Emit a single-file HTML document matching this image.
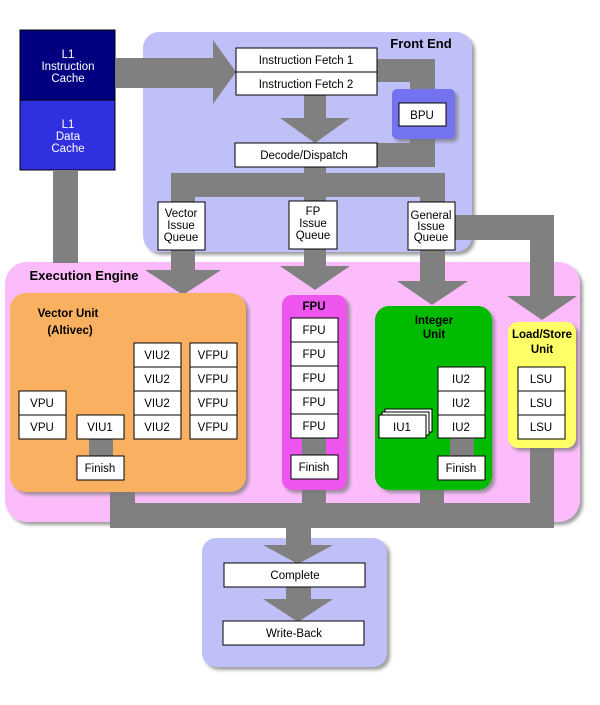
<!DOCTYPE html>
<html><head><meta charset="utf-8"><style>
body{margin:0;background:#fff}
svg text{font-family:"Liberation Sans",Arial,sans-serif;font-size:11.5px;text-anchor:middle;fill:#000}
svg text.w{fill:#fff}
.b{font-weight:bold}
</style></head><body>
<svg width="600" height="700" viewBox="0 0 600 700" xmlns="http://www.w3.org/2000/svg">
<defs><filter id="sh" x="-5%" y="-5%" width="115%" height="115%"><feDropShadow dx="3" dy="3" stdDeviation="1.5" flood-color="#777" flood-opacity="0.7"/></filter></defs>
<rect x="143" y="32" width="329" height="220" rx="16" fill="#c0c0f8" filter="url(#sh)"/>
<text x="421" y="48" class="b" style="font-size:13px">Front End</text>
<rect x="5" y="262" width="575" height="260" rx="22" fill="#fcbcfc" filter="url(#sh)"/>
<text x="84" y="280" class="b" style="font-size:13px">Execution Engine</text>
<rect x="202" y="538" width="185" height="129" rx="14" fill="#c0c0f8" filter="url(#sh)"/>
<rect x="20" y="30" width="95" height="70" fill="#000080" stroke="#000"/>
<rect x="20" y="100" width="95" height="70" fill="#3030e0" stroke="#000"/>
<text x="68" y="58" class="w" style="fill:#fff">L1</text><text x="68" y="70" class="w" style="fill:#fff">Instruction</text><text x="68" y="82" class="w" style="fill:#fff">Cache</text>
<text x="68" y="128" class="w" style="fill:#fff">L1</text><text x="68" y="140" class="w" style="fill:#fff">Data</text><text x="68" y="152" class="w" style="fill:#fff">Cache</text>
<g fill="#808080">
<rect x="115" y="58" width="100" height="30"/>
<polygon points="213,40 236,72 213,104"/>
<rect x="377" y="59" width="58" height="23"/>
<rect x="410" y="59" width="25" height="32"/>
<rect x="410" y="137" width="25" height="30"/>
<rect x="377" y="143" width="58" height="24"/>
<rect x="304" y="95" width="22" height="24"/>
<polygon points="280,118 350,118 315,143"/>
<rect x="304" y="167" width="22" height="8"/>
<rect x="171" y="173" width="274" height="24"/>
<rect x="171" y="195" width="24" height="8"/>
<rect x="304" y="195" width="22" height="8"/>
<rect x="420" y="195" width="25" height="8"/>
<rect x="171" y="250" width="24" height="22"/><polygon points="145,270 221,270 183,295"/>
<rect x="304" y="249" width="22" height="18"/><polygon points="280,266 350,266 315,290"/>
<rect x="420" y="250" width="25" height="32"/><polygon points="397,281 468,281 432,305"/>
<rect x="455" y="215" width="99" height="25"/>
<rect x="530" y="215" width="24" height="83"/><polygon points="507,296 577,296 542,320"/>
<rect x="53" y="170" width="25" height="93"/>
<rect x="110" y="490" width="25" height="38"/>
<rect x="302" y="488" width="24" height="20"/>
<rect x="420" y="488" width="24" height="20"/>
<rect x="530" y="446" width="24" height="62"/>
<rect x="110" y="503" width="444" height="25"/>
<rect x="286" y="526" width="25" height="20"/><polygon points="263,545 333,545 298,564"/>
<rect x="286" y="587" width="25" height="14"/><polygon points="263,599 333,599 298,622"/>
</g>
<g fill="#fff" stroke="#000">
<rect x="236" y="48" width="141" height="24"/><rect x="236" y="72" width="141" height="23"/>
<rect x="235" y="143" width="142" height="24"/>
<rect x="158" y="202" width="47" height="48"/>
<rect x="289" y="201" width="48" height="48"/>
<rect x="408" y="202" width="47" height="48"/>
</g>
<rect x="392" y="89" width="63" height="50" rx="5" fill="#7373f0" filter="url(#sh)"/>
<rect x="399" y="103" width="47" height="23" fill="#fff" stroke="#000"/>
<text x="306" y="64">Instruction Fetch 1</text>
<text x="306" y="88">Instruction Fetch 2</text>
<text x="422" y="119">BPU</text>
<text x="304" y="159">Decode/Dispatch</text>
<text x="181" y="217">Vector</text><text x="181" y="229">Issue</text><text x="181" y="241">Queue</text>
<text x="313" y="215">FP</text><text x="313" y="227">Issue</text><text x="313" y="239">Queue</text>
<text x="431" y="219">General</text><text x="431" y="230">Issue</text><text x="431" y="241">Queue</text>
<rect x="10" y="293" width="236" height="199" rx="16" fill="#f9b060" filter="url(#sh)"/>
<text x="68" y="317" class="b">Vector Unit</text><text x="70" y="334" class="b">(Altivec)</text>
<rect x="89" y="439" width="24" height="18" fill="#808080"/>
<g fill="#fff" stroke="#000">
<rect x="19" y="391" width="47" height="24"/><rect x="19" y="415" width="47" height="24"/>
<rect x="77" y="415" width="47" height="24"/><rect x="77" y="456" width="47" height="24"/>
<rect x="134" y="343" width="47" height="24"/><rect x="134" y="367" width="47" height="24"/><rect x="134" y="391" width="47" height="24"/><rect x="134" y="415" width="47" height="24"/>
<rect x="190" y="343" width="47" height="24"/><rect x="190" y="367" width="47" height="24"/><rect x="190" y="391" width="47" height="24"/><rect x="190" y="415" width="47" height="24"/>
</g>
<text x="42" y="407">VPU</text><text x="42" y="431">VPU</text>
<text x="100" y="431">VIU1</text><text x="100" y="472">Finish</text>
<text x="157" y="359">VIU2</text><text x="157" y="383">VIU2</text><text x="157" y="407">VIU2</text><text x="157" y="431">VIU2</text>
<text x="213" y="359">VFPU</text><text x="213" y="383">VFPU</text><text x="213" y="407">VFPU</text><text x="213" y="431">VFPU</text>
<rect x="282" y="295" width="65" height="195" rx="10" fill="#ee55ee" filter="url(#sh)"/>
<text x="314" y="310" class="b">FPU</text>
<rect x="302" y="438" width="24" height="18" fill="#808080"/>
<g fill="#fff" stroke="#000">
<rect x="291" y="318" width="47" height="24"/><rect x="291" y="342" width="47" height="24"/><rect x="291" y="366" width="47" height="24"/><rect x="291" y="390" width="47" height="24"/><rect x="291" y="414" width="47" height="24"/>
<rect x="291" y="455" width="47" height="24"/></g>
<text x="314" y="334">FPU</text><text x="314" y="358">FPU</text><text x="314" y="382">FPU</text><text x="314" y="406">FPU</text><text x="314" y="430">FPU</text><text x="314" y="471">Finish</text>
<rect x="375" y="306" width="117" height="184" rx="14" fill="#00bb00" filter="url(#sh)"/>
<text x="434" y="324" class="b">Integer</text><text x="434" y="338" class="b">Unit</text>
<rect x="450" y="438" width="24" height="18" fill="#808080"/>
<g fill="#fff" stroke="#000">
<rect x="385" y="409" width="47" height="23"/><rect x="382" y="412" width="47" height="23"/><rect x="379" y="415" width="47" height="23"/>
<rect x="438" y="367" width="47" height="24"/><rect x="438" y="391" width="47" height="24"/><rect x="438" y="415" width="47" height="23"/>
<rect x="438" y="456" width="47" height="24"/></g>
<text x="402" y="431">IU1</text><text x="461" y="383">IU2</text><text x="461" y="407">IU2</text><text x="461" y="431">IU2</text><text x="461" y="472">Finish</text>
<rect x="508" y="322" width="68" height="126" rx="10" fill="#ffff66" filter="url(#sh)"/>
<text x="542" y="338" class="b">Load/Store</text><text x="542" y="353" class="b">Unit</text>
<g fill="#fff" stroke="#000"><rect x="518" y="367" width="47" height="24"/><rect x="518" y="391" width="47" height="24"/><rect x="518" y="415" width="47" height="24"/></g>
<text x="541" y="383">LSU</text><text x="541" y="407">LSU</text><text x="541" y="431">LSU</text>
<g fill="#fff" stroke="#000"><rect x="224" y="563" width="141" height="24"/><rect x="223" y="621" width="141" height="24"/></g>
<text x="295" y="579">Complete</text><text x="294" y="637">Write-Back</text>
</svg>
</body></html>
